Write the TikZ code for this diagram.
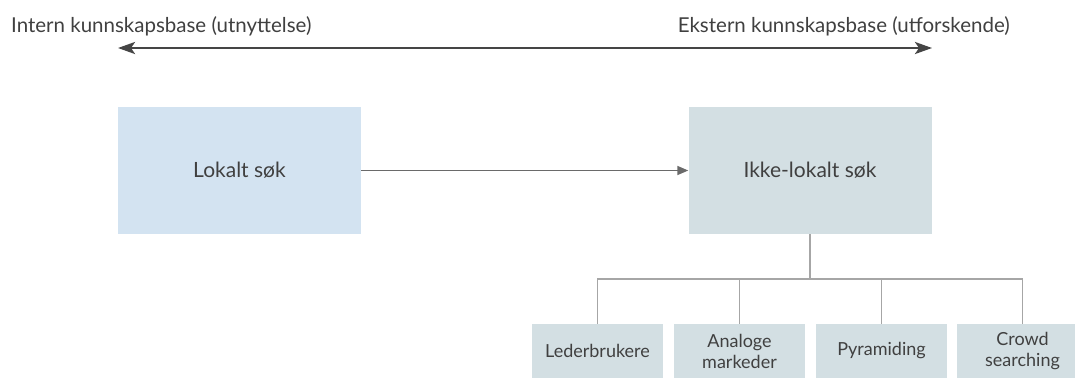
\documentclass[tikz,border=0pt]{standalone}
\usepackage{fontspec}
\setmainfont{Lato}
\usetikzlibrary{arrows.meta}
\definecolor{txt}{HTML}{404040}
\definecolor{lokal}{HTML}{D3E3F1}
\definecolor{ikke}{HTML}{D3DFE3}
\definecolor{wire}{HTML}{A6A6A6}
\definecolor{axis}{HTML}{454545}
\definecolor{link}{HTML}{6A6A6A}
\tikzset{
  bigbox/.style={rectangle, inner sep=0pt, minimum width=243pt, minimum height=127pt,
    text=txt, font=\fontsize{21}{25}\selectfont},
  leaf/.style={rectangle, fill=ikke, inner sep=0pt, minimum width=131pt, minimum height=54pt,
    text=txt, align=center, font=\fontsize{18}{21}\selectfont},
  endlabel/.style={text=txt, inner sep=0pt, font=\fontsize{20.5}{24}\selectfont},
  tree/.style={draw=wire, line width=1.5pt},
}
\begin{document}
\begin{tikzpicture}[x=1pt, y=-1pt]
  \useasboundingbox (0,0) rectangle (1075,378);
  \clip (0,0) rectangle (1075,378);
  \fill[white] (0,0) rectangle (1075,378);

  % knowledge-base axis
  \node[endlabel, anchor=base west] (intern) at (11,32) {Intern kunnskapsbase (utnyttelse)};
  \node[endlabel, anchor=base east] (ekstern) at (1010,32) {Ekstern kunnskapsbase (utforskende)};
  \coordinate (axl) at (118,48);
  \coordinate (axr) at (932,48);
  \draw[axis, line width=2.5pt, {Stealth[length=17pt, width=12pt, inset=4pt]}-{Stealth[length=17pt, width=12pt, inset=4pt]}] (axl) -- (axr);

  % search boxes
  \node[bigbox, fill=lokal] (lokalt) at (239.5,170.5) {Lokalt søk};
  \node[bigbox, fill=ikke] (ikkelokalt) at (810,170.5) {Ikke-lokalt søk};
  \draw[link, line width=1.5pt, -{Triangle[length=11pt, width=9pt]}] (lokalt) -- (ikkelokalt);

  % forms of non-local search
  \node[leaf] (c1) at (597.5,351) {Lederbrukere};
  \node[leaf] (c2) at (739.5,351) {Analoge\\markeder};
  \node[leaf] (c3) at (881.5,351) {Pyramiding};
  \node[leaf] (c4) at (1022.5,351) {Crowd\\searching};

  \coordinate (bus) at (810,279);
  \draw[tree] (ikkelokalt.south) -- (bus);
  \foreach \c in {c1,c2,c3,c4} \draw[tree] (bus) -| (\c.north);
\end{tikzpicture}
\end{document}
